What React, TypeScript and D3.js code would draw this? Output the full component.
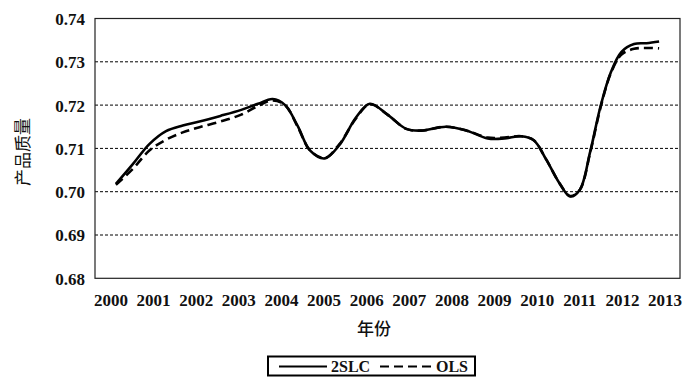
import React from "react";
import * as d3 from "d3";

const yearLabels = ["2000","2001","2002","2003","2004","2005","2006","2007","2008","2009","2010","2011","2012","2013"];
const yTicks = [0.68, 0.69, 0.70, 0.71, 0.72, 0.73, 0.74];

const sampleYears = [2000.0, 2000.4, 2000.8, 2001.2, 2001.6, 2002.0, 2002.5, 2003.0, 2003.4, 2003.75, 2004.05, 2004.35, 2004.65, 2005.0, 2005.35, 2005.75, 2006.08, 2006.5, 2006.95, 2007.3, 2007.9, 2008.4, 2008.9, 2009.3, 2009.7, 2010.0, 2010.3, 2010.62, 2010.87, 2011.1, 2011.35, 2011.6, 2011.85, 2012.1, 2012.4, 2012.7, 2013.0];
const series2SLC = [0.7018, 0.7063, 0.7110, 0.7140, 0.7153, 0.7162, 0.7175, 0.7189, 0.7203, 0.7214, 0.7200, 0.7152, 0.7095, 0.7077, 0.7108, 0.7172, 0.7203, 0.7178, 0.7145, 0.7141, 0.7150, 0.7141, 0.7123, 0.7123, 0.7128, 0.7119, 0.7074, 0.7019, 0.6989, 0.7004, 0.7092, 0.7198, 0.7277, 0.7323, 0.7341, 0.7343, 0.7347];
const seriesOLS = [0.7016, 0.7052, 0.7095, 0.7120, 0.7137, 0.7149, 0.7162, 0.7178, 0.7198, 0.7211, 0.7200, 0.7150, 0.7095, 0.7078, 0.7110, 0.7170, 0.7202, 0.7178, 0.7145, 0.7141, 0.7150, 0.7141, 0.7125, 0.7125, 0.7128, 0.7119, 0.7074, 0.7019, 0.6990, 0.7004, 0.7090, 0.7195, 0.7275, 0.7317, 0.7330, 0.7332, 0.7331];

const W = 700, H = 383;
const plot = { left: 95, right: 680, top: 18.5, bottom: 278.3 };
const font = "'Liberation Serif', 'Times New Roman', serif";
const cjk = "'Noto Sans CJK SC', sans-serif";

export default function App() {
  const x = d3.scaleLinear().domain([1999.5, 2013.5]).range([plot.left, plot.right]);
  const xLabel = d3.scalePoint<string>().domain(yearLabels).range([111, 665]);
  const y = d3.scaleLinear().domain([0.68, 0.74]).range([plot.bottom, plot.top]);

  const line = d3.line<number>()
    .x((_, i) => x(sampleYears[i]))
    .y((d) => y(d))
    .curve(d3.curveCatmullRom.alpha(0.5));

  return (
    <svg width={W} height={H} style={{ position: "absolute", left: 0, top: 0, background: "#fff" }}>
      {yTicks.filter((t) => t > 0.68 && t < 0.74).map((t) => (
        <line key={t} x1={plot.left} x2={plot.right} y1={y(t)} y2={y(t)} stroke="#000" strokeWidth={1} strokeDasharray="3,2" />
      ))}
      <rect x={plot.left} y={plot.top} width={plot.right - plot.left} height={plot.bottom - plot.top} fill="none" stroke="#222" strokeWidth={1.2} />
      {yTicks.map((t) => (
        <text key={t} x={85} y={y(t) + 2.5} textAnchor="end" dominantBaseline="middle" fontFamily={font} fontSize={17} fontWeight="bold" fill="#111">
          {t.toFixed(2)}
        </text>
      ))}
      {yearLabels.map((l) => (
        <text key={l} x={xLabel(l)} y={305.5} textAnchor="middle" fontFamily={font} fontSize={17} fontWeight="bold" fill="#111">
          {l}
        </text>
      ))}
      <path d={line(seriesOLS) || ""} fill="none" stroke="#000" strokeWidth={2.6} strokeDasharray="9,5" />
      <path d={line(series2SLC) || ""} fill="none" stroke="#000" strokeWidth={2.6} />
      <text x={374} y={330} textAnchor="middle" dominantBaseline="middle" fontFamily={cjk} fontSize={17} fontWeight={500} fill="#111">年份</text>
      <text transform={`translate(24,152) rotate(-90)`} textAnchor="middle" dominantBaseline="middle" fontFamily={cjk} fontSize={17} fontWeight={400} fill="#111">产品质量</text>
      <g>
        <rect x={268} y={356.5} width={207} height={19} fill="#fff" stroke="#000" strokeWidth={2} />
        <line x1={279} x2={327} y1={366.5} y2={366.5} stroke="#000" strokeWidth={2.2} />
        <text x={331} y={372} fontFamily={font} fontSize={16} fontWeight="bold" fill="#111">2SLC</text>
        <line x1={380} x2={433} y1={366.5} y2={366.5} stroke="#000" strokeWidth={2.2} strokeDasharray="9,5" />
        <text x={436} y={372} fontFamily={font} fontSize={16} fontWeight="bold" fill="#111">OLS</text>
      </g>
    </svg>
  );
}
